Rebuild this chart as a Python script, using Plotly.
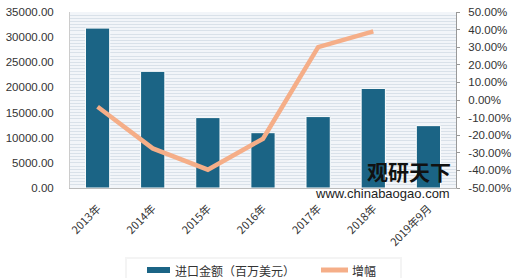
import plotly.graph_objects as go

categories = ["2013年", "2014年", "2015年", "2016年", "2017年", "2018年", "2019年9月"]
import_value = [31800, 23200, 14000, 11000, 14200, 19800, 12400]
growth_cats = ["2013年", "2014年", "2015年", "2016年", "2017年", "2018年"]
growth = [-3.8, -27.5, -39.6, -22.0, 30.0, 39.0]

left_ticks = [0, 5000, 10000, 15000, 20000, 25000, 30000, 35000]
right_ticks = [-50, -40, -30, -20, -10, 0, 10, 20, 30, 40, 50]

bar_color = "#1b6485"
line_color = "#f5ae88"

fig = go.Figure()
fig.add_trace(go.Bar(
    x=categories, y=import_value, name="进口金额（百万美元）",
    marker=dict(color=bar_color, line=dict(color="#ffffff", width=1)),
))
fig.add_trace(go.Scatter(
    x=growth_cats, y=growth, name="增幅", yaxis="y2", mode="lines",
    line=dict(color=line_color, width=4.5),
))

font = dict(family="Liberation Sans, Arial, sans-serif", size=11.5, color="#333333")
cjk = "Noto Sans CJK SC, sans-serif"

def px_x(p):
    return (p - 70) / 386.0

def px_y(p):
    return (188 - p) / 176.0

shapes = [
    dict(type="rect", xref="paper", yref="paper", x0=px_x(125), x1=px_x(402),
         y0=px_y(257), y1=px_y(290), fillcolor="#f4f4f4", line=dict(width=0), layer="above"),
    dict(type="rect", xref="paper", yref="paper", x0=px_x(127), x1=px_x(400),
         y0=px_y(259), y1=px_y(290), fillcolor="#ffffff", line=dict(width=0), layer="above"),
    dict(type="rect", xref="paper", yref="paper", x0=px_x(147), x1=px_x(170),
         y0=px_y(267), y1=px_y(273), fillcolor=bar_color, line=dict(width=0), layer="above"),
    dict(type="line", xref="paper", yref="paper", x0=px_x(321), x1=px_x(348),
         y0=px_y(270), y1=px_y(270), line=dict(color=line_color, width=5), layer="above"),
]

annotations = [
    dict(text="进口金额（百万美元）", xref="paper", yref="paper", x=px_x(173), y=px_y(270),
         xanchor="left", yanchor="middle", showarrow=False,
         font=dict(family=cjk, size=12, color="#333333")),
    dict(text="增幅", xref="paper", yref="paper", x=px_x(350), y=px_y(270),
         xanchor="left", yanchor="middle", showarrow=False,
         font=dict(family=cjk, size=12, color="#333333")),
    dict(text="<b>观研天下</b>", xref="paper", yref="paper", x=px_x(409), y=px_y(171),
         xanchor="center", yanchor="middle", showarrow=False,
         font=dict(family=cjk, size=21, color="#111111")),
    dict(text="www.chinabaogao.com", xref="paper", yref="paper", x=px_x(452), y=px_y(193),
         xanchor="right", yanchor="middle", showarrow=False,
         font=dict(family="Liberation Sans, Arial, sans-serif", size=13, color="#222222")),
]

fig.update_layout(
    width=520, height=278,
    margin=dict(l=70, r=64, t=12, b=90, autoexpand=False),
    paper_bgcolor="#ffffff",
    plot_bgcolor="#f2f5f9",
    bargap=0.56,
    font=font,
    showlegend=False,
    shapes=shapes,
    annotations=annotations,
    xaxis=dict(
        type="category", tickangle=-45, showgrid=False, automargin=False,
        showline=True, linecolor="#bbbbbb", linewidth=1,
        tickfont=dict(family=cjk, size=11, color="#333333"),
        ticks="", range=[-0.5, 6.5], ticklabelstandoff=9,
    ),
    yaxis=dict(
        range=[0, 35000], tickvals=left_ticks, automargin=False,
        ticktext=[f"{v:.2f}" for v in left_ticks],
        showgrid=True, gridcolor="#d9e1e9", gridwidth=1,
        minor=dict(dtick=625, showgrid=True, gridcolor="#d9e1e9", gridwidth=1),
        showline=True, linecolor="#cccccc", zeroline=False,
        ticks="", tickfont=font, ticklabelstandoff=13,
    ),
    yaxis2=dict(
        range=[-50, 50], overlaying="y", side="right", automargin=False,
        tickvals=right_ticks, ticktext=[f"{v:.2f}%" for v in right_ticks],
        showgrid=False, zeroline=False,
        showline=True, linecolor="#999999", ticks="outside", ticklen=3,
        tickcolor="#999999", tickfont=font, ticklabelstandoff=6,
    ),
)

fig.write_html("out.html")
